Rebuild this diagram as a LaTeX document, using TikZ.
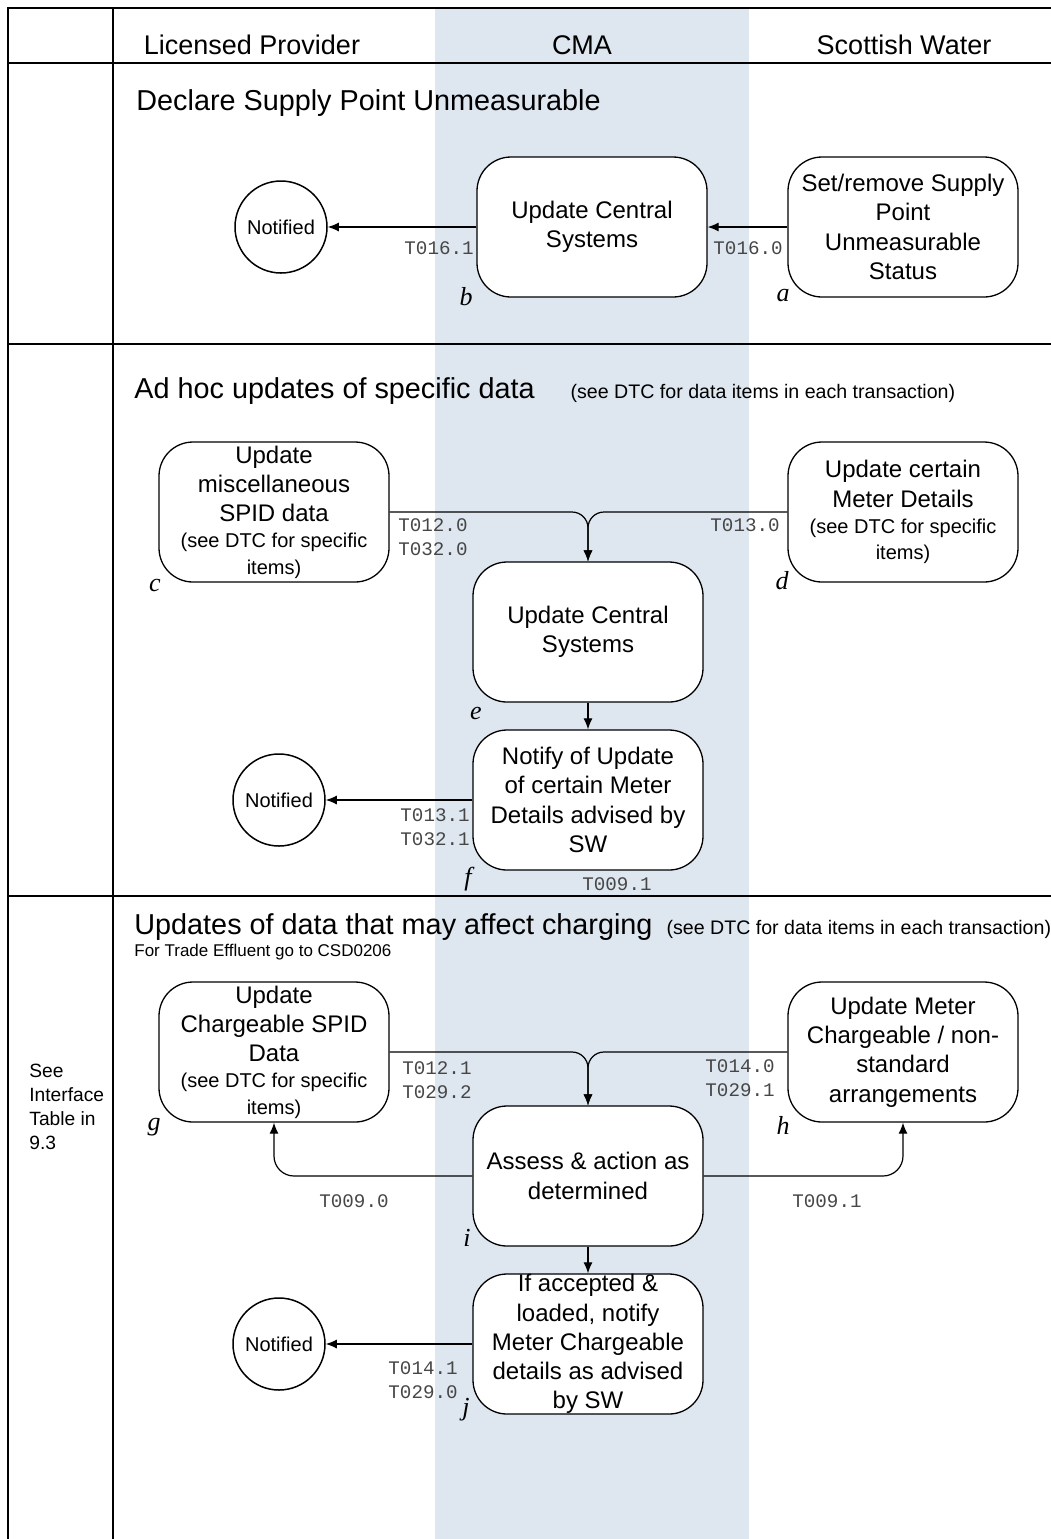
\documentclass[tikz,border=0pt]{standalone}
\usepackage{fontspec}
\setmainfont{Liberation Sans}
\setmonofont{Liberation Mono}
\newfontfamily\tagfont{Liberation Serif}
\usetikzlibrary{arrows.meta}
\definecolor{cmaband}{RGB}{222,230,239}
\definecolor{codegray}{RGB}{70,70,70}
\newcommand{\dtcfont}{\fontsize{10}{13}\selectfont}

\tikzset{
  proc/.style={draw, rounded corners=17pt, line width=0.65pt, fill=white,
    minimum width=115pt, minimum height=70pt, inner xsep=0pt, inner ysep=-4pt,
    align=center, font=\fontsize{12}{14.6}\selectfont},
  endpt/.style={draw, circle, line width=0.75pt, fill=white, minimum size=46pt,
    inner sep=0pt, font=\fontsize{10}{12}\selectfont},
  flow/.style={line width=0.6pt, -{Latex[length=5.5pt,width=4.5pt]}},
  code/.style={font=\fontsize{9.6}{12.3}\ttfamily, text=codegray, inner sep=0pt, align=left},
  tag/.style={font=\fontsize{13}{13}\tagfont\itshape, inner sep=0pt},
  lane/.style={font=\fontsize{13.5}{16}\selectfont},
  title/.style={font=\fontsize{14.4}{17}\selectfont, anchor=west, inner sep=0pt},
  frame/.style={line width=1pt}
}

\begin{document}
\begin{tikzpicture}[x=0.5pt, y=-0.5pt]
\useasboundingbox (0,0) rectangle (1051,1539);
% swimlanes
\fill[cmaband] (435,8) rectangle (749,1539);
\draw[frame] (8,1539) -- (8,8) -- (1051,8);
\draw[frame] (113,8) -- (113,1539);
\foreach \y in {63,344,896}
  \draw[frame] (8,\y) -- (1051,\y);
\node[lane] (lp) at (252,45) {Licensed Provider};
\node[lane] (cma) at (582,45) {CMA};
\node[lane] (sw) at (904,45) {Scottish Water};

% unmeasurable
\node[title] (unmeas) at (136,103) {Declare Supply Point Unmeasurable};
\node[proc] (a) at (903,227) {Set/remove Supply\\Point\\Unmeasurable\\Status};
\node[proc] (b) at (592,227) {Update Central\\Systems};
\node[endpt] (n1) at (281,227) {Notified};
\draw[flow] (a) -- (b);
\draw[flow] (b) -- (n1);
\node[code, anchor=east] (t161) at (474,248) {T016.1};
\node[code, anchor=east] (t160) at (783,248) {T016.0};
\node[tag] at (466,297) {b};
\node[tag] at (783,296) {a};

% ad hoc
\node[title] (adhoc) at (134,391) {Ad hoc updates of specific data\hspace{18pt}{\fontsize{9.8}{12}\selectfont(see DTC for data items in each transaction)}};
\node[proc] (c) at (274,512) {Update\\miscellaneous\\SPID data\\[-1.5pt]{\dtcfont(see DTC for specific}\\[-1.5pt]{\dtcfont items)}};
\node[proc] (d) at (903,512) {Update certain\\Meter Details\\[-1.5pt]{\dtcfont(see DTC for specific}\\[-1.5pt]{\dtcfont items)}};
\node[proc] (e) at (588,632) {Update Central\\Systems};
\node[proc] (f) at (588,800) {Notify of Update\\of certain Meter\\Details advised by\\SW};
\node[endpt] (n2) at (279,800) {Notified};
\draw[flow, rounded corners=8pt] (c.east) -| (e.north);
\draw[flow, rounded corners=8pt] (d.west) -| (e.north);
\draw[flow] (e) -- (f);
\draw[flow] (f) -- (n2);
\node[code, anchor=west] (t120) at (398,537) {T012.0\\T032.0};
\node[code, anchor=east] (t130) at (780,525) {T013.0};
\node[code, anchor=east, align=right] (t131) at (470,827) {T013.1\\T032.1};
\node[code] (t091a) at (617,884) {T009.1};
\node[tag] at (155,585) {c};
\node[tag] at (782,581) {d};
\node[tag] at (476,713) {e};
\node[tag] at (468,879) {f};

% charging
\node[title] (charg) at (134,927) {Updates of data that may affect charging\hspace{7pt}{\fontsize{9.8}{12}\selectfont(see DTC for data items in each transaction)}};
\node[anchor=west, inner sep=0pt, font=\fontsize{8.5}{10}\selectfont] (trade) at (134,952) {For Trade Effluent go to CSD0206};
\node[anchor=west, align=left, inner sep=0pt, font=\fontsize{9.6}{12}\selectfont] (note) at (29,1107) {See\\Interface\\Table in\\9.3};
\node[proc] (g) at (274,1052) {Update\\Chargeable SPID\\Data\\[-1.5pt]{\dtcfont(see DTC for specific}\\[-1.5pt]{\dtcfont items)}};
\node[proc] (h) at (903,1052) {Update Meter\\Chargeable / non-\\standard\\arrangements};
\node[proc] (i) at (588,1176) {Assess \& action as\\determined};
\node[proc] (j) at (588,1344) {If accepted \&\\loaded, notify\\Meter Chargeable\\details as advised\\by SW};
\node[endpt] (n3) at (279,1344) {Notified};
\draw[flow, rounded corners=8pt] (g.east) -| (i.north);
\draw[flow, rounded corners=8pt] (h.west) -| (i.north);
\draw[flow, rounded corners=10pt] (i.west) -| (g.south);
\draw[flow, rounded corners=10pt] (i.east) -| (h.south);
\draw[flow] (i) -- (j);
\draw[flow] (j) -- (n3);
\node[code, anchor=west] (t121) at (402,1080) {T012.1\\T029.2};
\node[code, anchor=east, align=right] (t140) at (775,1078) {T014.0\\T029.1};
\node[code] (t090) at (354,1201) {T009.0};
\node[code] (t091) at (827,1201) {T009.1};
\node[code, anchor=east, align=right] (t141) at (458,1380) {T014.1\\T029.0};
\node[tag] at (154,1127) {g};
\node[tag] at (783,1125) {h};
\node[tag] at (467,1238) {i};
\node[tag] at (466,1410) {j};
\end{tikzpicture}
\end{document}
